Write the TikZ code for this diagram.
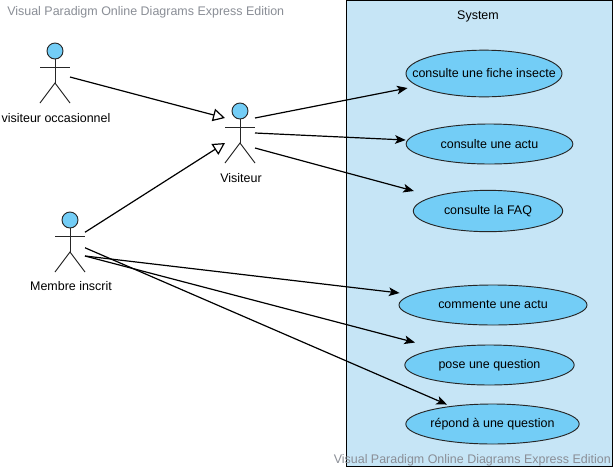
\documentclass[tikz,border=0pt]{standalone}
\usepackage{fontspec}
\setmainfont{Liberation Sans}
\usepackage{xcolor}
\usetikzlibrary{arrows.meta,calc,positioning,shapes.geometric}
\definecolor{sysblue}{HTML}{C6E5F6}
\definecolor{caseblue}{HTML}{73CDF6}
\definecolor{markgray}{HTML}{8A8E96}
\tikzset{
  actorbox/.style={minimum width=22.5pt,minimum height=45pt,inner sep=0pt,outer sep=0pt},
  actorlabel/.style={font=\fontsize{9.35}{11}\selectfont,inner sep=0pt},
  usecase/.style={ellipse,draw=black!85,fill=caseblue,line width=0.7pt,inner ysep=0pt,inner xsep=-14pt,font=\fontsize{9.35}{11}\selectfont},
  assoc/.style={-{Stealth[length=8pt,width=6.5pt,inset=2pt]},line width=0.9pt},
  general/.style={-{Triangle[open,length=9pt,width=9.5pt,fill=white]},line width=0.9pt},
  watermark/.style={font=\fontsize{9.35}{11}\selectfont,text=markgray,inner sep=0pt}
}
\begin{document}
\begin{tikzpicture}[x=0.75pt,y=-0.75pt]
  \useasboundingbox (0,0) rectangle (615,469);
  \fill[white] (0,0) rectangle (615,469);
  \node[draw=black,fill=sysblue,line width=0.75pt,minimum width=199.5pt,minimum height=349.5pt,inner sep=0pt] (system) at (479,233) {};
  \node[font=\fontsize{9.35}{11}\selectfont,inner sep=0pt] (systemlbl) at (478,16) {System};
  % actors
  \node[actorbox] (occasionnel) at (55,73) {};
  \node[actorbox] (visiteur) at (240,133) {};
  \node[actorbox] (membre) at (70,242) {};
  \foreach \a in {occasionnel,visiteur,membre} {
    \draw[black!85,line width=0.7pt] ($(\a)+(0,-14)$) -- ($(\a)+(0,10)$);
    \draw[black!85,line width=0.7pt] ($(\a)+(-15,-6)$) -- ($(\a)+(15,-6)$);
    \draw[black!85,line width=0.7pt] ($(\a)+(-15,30)$) -- ($(\a)+(0,10)$) -- ($(\a)+(15,30)$);
    \draw[black!85,fill=caseblue,line width=0.7pt] ($(\a)+(0,-22)$) circle (6pt);
  }
  \node[actorlabel] (occasionnellbl) at (56,118) {visiteur occasionnel};
  \node[actorlabel] (visiteurlbl) at (241,178) {Visiteur};
  \node[actorlabel] (membrelbl) at (71,286) {Membre inscrit};
  % use cases
  \node[usecase,minimum width=117pt,minimum height=35pt] (fiche) at (484,73.5) {consulte une fiche insecte};
  \node[usecase,minimum width=125pt,minimum height=30pt] (actu) at (489.5,144) {consulte une actu};
  \node[usecase,minimum width=112pt,minimum height=31pt] (faq) at (488,211) {consulte la FAQ};
  \node[usecase,minimum width=141pt,minimum height=30pt] (commente) at (493,305) {commente une actu};
  \node[usecase,minimum width=127pt,minimum height=30pt] (pose) at (489.5,365) {pose une question};
  \node[usecase,minimum width=130pt,minimum height=30pt] (repond) at (492.5,424) {répond à une question};
  % connectors
  \draw[general] (occasionnel.-15) -- ($(visiteur.west)+(0,-15)$);
  \draw[general] (membre.33.7) -- ($(visiteur.west)+(0,10)$);
  \draw[assoc] (visiteur.45) -- ($(fiche.west)+(2,14.5)$);
  \draw[assoc] (visiteur.0) -- ($(actu.west)+(0,-4)$);
  \draw[assoc] (visiteur.-45) -- ($(faq.west)+(1,-20)$);
  \draw[assoc] (membre.-43) -- ($(commente.west)+(1,-12)$);
  \draw[assoc] (membre.-43) -- ($(pose.north)+(-74.5,-2)$);
  \draw[assoc] (membre.-21.8) -- ($(repond.north)+(-45.5,1)$);
  % marks
  \node[watermark,anchor=west] (markleft) at (7,12.5) {Visual Paradigm Online Diagrams Express Edition};
  \node[watermark,anchor=east] (markright) at (611,460) {Visual Paradigm Online Diagrams Express Edition};
\end{tikzpicture}
\end{document}
